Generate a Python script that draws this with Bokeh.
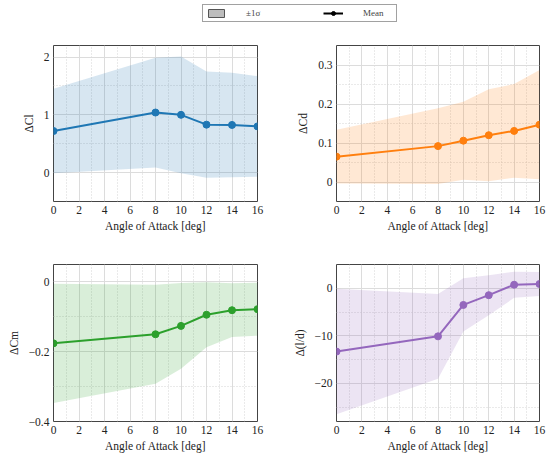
from bokeh.plotting import figure
from bokeh.models import Range1d, FixedTicker, Legend, LegendItem, ColumnDataSource
from bokeh.layouts import column, row
from bokeh.embed import file_html
from bokeh.resources import INLINE

# ---- data ----
aoa = [0, 8, 10, 12, 14, 16]
cl_mean = [0.72, 1.04, 1.00, 0.83, 0.825, 0.80]
cl_std = [0.73, 0.95, 1.01, 0.92, 0.905, 0.87]
cd_mean = [0.065, 0.092, 0.106, 0.120, 0.131, 0.147]
cd_std = [0.069, 0.097, 0.100, 0.118, 0.120, 0.140]
cm_mean = [-0.176, -0.150, -0.126, -0.094, -0.081, -0.078]
cm_std = [0.171, 0.142, 0.123, 0.093, 0.077, 0.076]
ld_mean = [-13.3, -10.1, -3.5, -1.45, 0.75, 0.9]
ld_std = [13.2, 8.9, 5.6, 4.2, 2.75, 2.5]

x_ticks = [0, 2, 4, 6, 8, 10, 12, 14, 16]
x_minor = [1, 3, 5, 7, 9, 11, 13, 15]

cl_ticks = [0, 1, 2]
cl_minor = [-0.5, 0.5, 1.5]
cl_labels = ["0", "1", "2"]
cd_ticks = [0, 0.1, 0.2, 0.3]
cd_minor = [0.05, 0.15, 0.25]
cd_labels = ["0", "0.1", "0.2", "0.3"]
cm_ticks = [-0.4, -0.2, 0]
cm_minor = [-0.3, -0.1]
cm_labels = ["\u22120.4", "\u22120.2", "0"]
ld_ticks = [-20, -10, 0]
ld_minor = [-25, -15, -5]
ld_labels = ["\u221220", "\u221210", "0"]

xlabel = "Angle of Attack [deg]"
legend_labels = ["\u00b11\u03c3", "Mean"]

FONT = "Liberation Serif"
NAN = float("nan")


def panel(mean, std, color, ylabel, yr, ticks, minor, labels,
          width, height, bl, br, bt, bb):
    p = figure(width=width, height=height, output_backend="svg",
               toolbar_location=None,
               x_range=Range1d(0, 16), y_range=Range1d(*yr),
               min_border_left=bl, min_border_right=br,
               min_border_top=bt, min_border_bottom=bb)
    src = ColumnDataSource(dict(
        x=aoa, m=mean,
        lo=[a - b for a, b in zip(mean, std)],
        hi=[a + b for a, b in zip(mean, std)]))
    p.varea(x="x", y1="lo", y2="hi", source=src, fill_color=color,
            fill_alpha=0.18)
    p.line(x="x", y="m", source=src, line_color=color, line_width=2)
    p.scatter(x="x", y="m", source=src, size=7, fill_color=color,
              line_color=color)

    p.xaxis.ticker = FixedTicker(ticks=x_ticks, minor_ticks=x_minor)
    p.yaxis.ticker = FixedTicker(ticks=ticks, minor_ticks=minor)
    p.yaxis.major_label_overrides = {t: l for t, l in zip(ticks, labels)}
    p.xaxis.axis_label = xlabel
    p.yaxis.axis_label = ylabel
    for ax in (p.xaxis, p.yaxis):
        ax.major_tick_out = 0
        ax.major_tick_in = 0
        ax.minor_tick_out = 0
        ax.minor_tick_in = 0
        ax.axis_line_color = None
        ax.major_label_text_font = FONT
        ax.major_label_text_font_size = "11.5px"
        ax.major_label_text_color = "#222222"
        ax.axis_label_text_font = FONT
        ax.axis_label_text_font_size = "11.5px"
        ax.axis_label_text_font_style = "normal"
        ax.axis_label_text_color = "#222222"
        ax.major_label_standoff = 4
        ax.axis_label_standoff = 3
    p.yaxis.axis_label_standoff = 6
    for g in (p.xgrid, p.ygrid):
        g.grid_line_color = "#dcdcdc"
        g.grid_line_width = 1
        g.minor_grid_line_color = "#d4d4d4"
        g.minor_grid_line_dash = "1 2"
        g.minor_grid_line_width = 1
    p.outline_line_color = "#444444"
    p.outline_line_width = 1
    p.background_fill_color = "white"
    p.border_fill_color = "white"
    return p


p1 = panel(cl_mean, cl_std, "#1f77b4", "\u0394Cl", (-0.5, 2.2),
           cl_ticks, cl_minor, cl_labels, 275, 221, 53, 18, 21, 44)
p2 = panel(cd_mean, cd_std, "#ff7f0e", "\u0394Cd", (-0.05, 0.35),
           cd_ticks, cd_minor, cd_labels, 275, 221, 61, 11, 21, 44)
p3 = panel(cm_mean, cm_std, "#2ca02c", "\u0394Cm", (-0.4, 0.05),
           cm_ticks, cm_minor, cm_labels, 275, 212, 53, 18, 19, 36)
p4 = panel(ld_mean, ld_std, "#9467bd", "\u0394(l/d)", (-28, 5),
           ld_ticks, ld_minor, ld_labels, 275, 212, 61, 11, 19, 36)

# ---- legend strip ----
lf = figure(width=550, height=24, output_backend="svg", toolbar_location=None,
            x_range=Range1d(0, 1), y_range=Range1d(0, 1),
            min_border=0, min_border_left=0, min_border_right=0,
            min_border_top=0, min_border_bottom=0)
lf.axis.visible = False
lf.grid.visible = False
lf.outline_line_color = None
r_band = lf.quad(left=[NAN], right=[NAN], top=[NAN], bottom=[NAN],
                 fill_color="#bdbdbd", line_color="#555555", line_width=1)
r_line = lf.line(x=[NAN], y=[NAN], line_color="black", line_width=2)
r_pt = lf.scatter(x=[NAN], y=[NAN], size=6, fill_color="black",
                  line_color="black")
leg = Legend(items=[LegendItem(label=legend_labels[0], renderers=[r_band]),
                    LegendItem(label=legend_labels[1], renderers=[r_line, r_pt])],
             orientation="horizontal", location=(202, 2), margin=0,
             padding=3, spacing=47, glyph_width=20, glyph_height=10,
             label_height=10, label_standoff=20, label_width=30,
             label_text_font=FONT, label_text_font_size="9px",
             border_line_color="#444444", border_line_width=1,
             background_fill_color="white", background_fill_alpha=1)
lf.add_layout(leg)

layout = column(lf, row(p1, p2), row(p3, p4))

open("out.html", "w").write(file_html(layout, INLINE))
